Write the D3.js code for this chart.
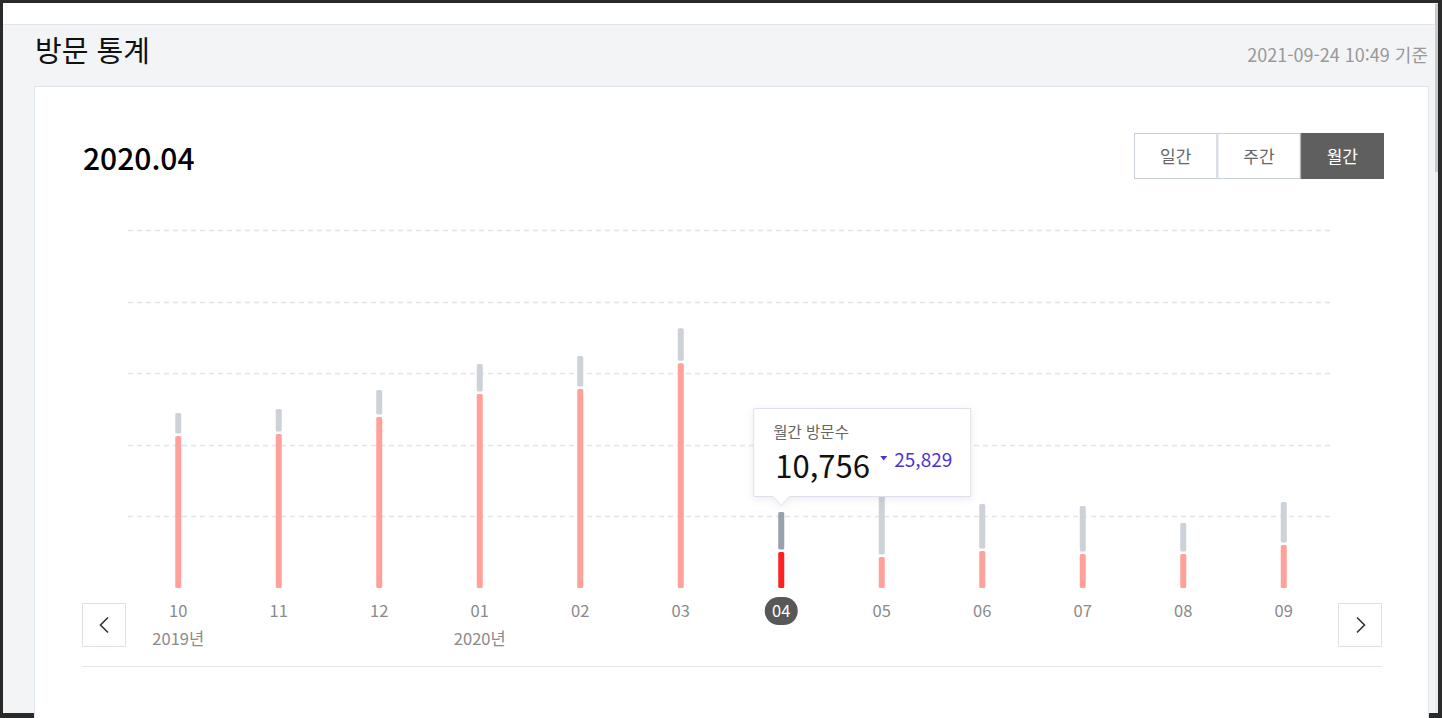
<!DOCTYPE html>
<html lang="ko">
<head>
<meta charset="utf-8">
<script src="https://cdn.jsdelivr.net/npm/d3@7"></script>
<style>
  html, body { margin: 0; padding: 0; background: #2a2a2a; }
  body { width: 1442px; height: 718px; overflow: hidden; }
  svg { display: block; }
  text { font-family: "Noto Sans CJK KR", "Noto Sans", sans-serif; }
</style>
</head>
<body>
<svg id="chart" width="1442" height="718"></svg>
<script>
// ---- data ----
const months = ["10", "11", "12", "01", "02", "03", "04", "05", "06", "07", "08", "09"];
const yearLabels = ["2019년", "", "", "2020년", "", "", "", "", "", "", "", ""];
const visits = [45400, 46000, 51100, 58000, 59500, 67200, 10756, 9260, 11050, 10160, 10160, 12850];
const remainder = [6870, 7470, 8070, 8960, 9860, 10460, 11950, 20000, 14040, 14340, 9260, 12850];
const gridValues = [21400, 42800, 64200, 85600, 107000];
const periodButtons = ["일간", "주간", "월간"];
const activeButton = "월간";
const selectedMonth = "04";
const pageTitle = "방문 통계";
const stampText = "2021-09-24 10:49 기준";
const periodTitle = "2020.04";
const tooltipLabel = "월간 방문수";
const tooltipValue = 10756;
const tooltipDiff = 25829;

const svg = d3.select("#chart");

// ---- page chrome ----
svg.append("rect").attr("x", 3).attr("y", 3).attr("width", 1435).attr("height", 710).attr("fill", "#f3f4f6");
svg.append("rect").attr("x", 3).attr("y", 3).attr("width", 1432).attr("height", 21).attr("fill", "#ffffff");
svg.append("line").attr("x1", 3).attr("x2", 1435).attr("y1", 24.5).attr("y2", 24.5).attr("stroke", "#e2e5ea");
// scrollbar
svg.append("rect").attr("x", 1435).attr("y", 3).attr("width", 3).attr("height", 710).attr("fill", "#ececec");
svg.append("rect").attr("x", 1435).attr("y", 4).attr("width", 3).attr("height", 168).attr("fill", "#c9c9c9");

svg.append("text").attr("x", 35).attr("y", 62).attr("font-size", 29).attr("fill", "#111").text(pageTitle);
svg.append("text").attr("x", 1428).attr("y", 62).attr("text-anchor", "end").attr("font-size", 18)
  .attr("font-family", "'Noto Sans', 'Noto Sans CJK KR', sans-serif")
  .attr("fill", "#999").text(stampText);

// card
svg.append("rect").attr("x", 34.5).attr("y", 86.5).attr("width", 1394).attr("height", 640)
  .attr("fill", "#fff").attr("stroke", "#dfe3ea");

svg.append("text").attr("x", 83).attr("y", 170).attr("font-family", "Roboto, 'Liberation Sans', sans-serif")
  .attr("font-weight", 500).attr("font-size", 30).attr("fill", "#000").text(periodTitle);

// period buttons
const btnX = d3.scaleBand().domain(periodButtons).range([1134, 1384]);
const btn = svg.append("g").selectAll("g").data(periodButtons).join("g");
btn.append("rect")
  .attr("x", d => btnX(d) + 0.5).attr("y", 133.5)
  .attr("width", btnX.bandwidth() - 1).attr("height", 45)
  .attr("fill", d => d === activeButton ? "#5f5f5f" : "#fff")
  .attr("stroke", d => d === activeButton ? "#5f5f5f" : "#c9cfdb");
btn.append("text")
  .attr("x", d => btnX(d) + btnX.bandwidth() / 2).attr("y", 163)
  .attr("text-anchor", "middle").attr("font-size", 17)
  .attr("fill", d => d === activeButton ? "#fff" : "#666").text(d => d);

// ---- chart ----
const baseY = 588;
const x = d3.scaleBand().domain(months).range([128, 1334]);
const y = d3.scaleLinear().domain([0, 107000]).range([baseY, 230]);
const barW = 6;
const gap = 2.5;

svg.append("g").selectAll("line").data(gridValues).join("line")
  .attr("x1", 128).attr("x2", 1334)
  .attr("y1", d => Math.round(y(d)) + 0.5).attr("y2", d => Math.round(y(d)) + 0.5)
  .attr("stroke", "#e4e4e4").attr("stroke-width", 1.6).attr("stroke-dasharray", "5,4");

const rows = months.map((m, i) => ({ m, v: visits[i], r: remainder[i], year: yearLabels[i] }));
const cx = d => x(d.m) + x.bandwidth() / 2;

const bars = svg.append("g").selectAll("g").data(rows).join("g");
bars.append("rect")
  .attr("x", d => cx(d) - barW / 2).attr("width", barW)
  .attr("y", d => y(d.v + d.r))
  .attr("height", d => y(d.v) - gap - y(d.v + d.r))
  .attr("rx", 1.5)
  .attr("fill", d => d.m === selectedMonth ? "#99a1ac" : "#cdd2d8");
bars.append("rect")
  .attr("x", d => cx(d) - barW / 2).attr("width", barW)
  .attr("y", d => y(d.v))
  .attr("height", d => baseY - y(d.v))
  .attr("rx", 1.5)
  .attr("fill", d => d.m === selectedMonth ? "#ff2121" : "#ffa19b");

// x labels
const sel = rows.find(d => d.m === selectedMonth);
svg.append("rect").attr("x", cx(sel) - 16.5).attr("y", 597).attr("width", 33).attr("height", 28)
  .attr("rx", 14).attr("fill", "#585858");
svg.append("g").selectAll("text").data(rows).join("text")
  .attr("x", cx).attr("y", 617).attr("text-anchor", "middle").attr("font-size", 16.5)
  .attr("fill", d => d.m === selectedMonth ? "#fff" : "#8a8a8a").text(d => d.m);
svg.append("g").selectAll("text").data(rows.filter(d => d.year)).join("text")
  .attr("x", cx).attr("y", 645).attr("text-anchor", "middle").attr("font-size", 16.5)
  .attr("fill", "#8a8a8a").text(d => d.year);

// nav buttons
[[82.5, "M108,617.5 L100.5,625 L108,632.5"], [1338.5, "M1357,617.5 L1364.5,625 L1357,632.5"]].forEach(([bx, p]) => {
  svg.append("rect").attr("x", bx).attr("y", 603.5).attr("width", 43).attr("height", 43)
    .attr("fill", "#fff").attr("stroke", "#dde1ea");
  svg.append("path").attr("d", p).attr("fill", "none").attr("stroke", "#333").attr("stroke-width", 1.6);
});
svg.append("line").attr("x1", 82).attr("x2", 1382).attr("y1", 666.5).attr("y2", 666.5).attr("stroke", "#e4e6ea");

// ---- tooltip ----
const defs = svg.append("defs");
const f = defs.append("filter").attr("id", "sh").attr("x", "-20%").attr("y", "-20%").attr("width", "140%").attr("height", "150%");
f.append("feDropShadow").attr("dx", 0).attr("dy", 2).attr("stdDeviation", 4).attr("flood-color", "#000").attr("flood-opacity", 0.08);

const tx = cx(sel) - 28, ty = 408, tw = 218, th = 89;
const tip = svg.append("g");
tip.append("path")
  .attr("d", `M${tx + 0.5},${ty + 0.5} H${tx + tw - 0.5} V${ty + th - 0.5} H${cx(sel) + 8} L${cx(sel)},${ty + th + 8.5} L${cx(sel) - 8},${ty + th - 0.5} H${tx + 0.5} Z`)
  .attr("fill", "#fff").attr("stroke", "#dde1ec").attr("filter", "url(#sh)");
tip.append("text").attr("x", tx + 20).attr("y", ty + 30).attr("font-size", 15.5).attr("fill", "#666").text(tooltipLabel);
tip.append("text").attr("x", tx + 22).attr("y", ty + 70).attr("font-family", "Roboto, sans-serif")
  .attr("font-size", 31).attr("fill", "#111").text(d3.format(",")(tooltipValue));
tip.append("path").attr("d", `M${tx + 127},${ty + 48} L${tx + 134},${ty + 48} L${tx + 130.5},${ty + 52.5} Z`).attr("fill", "#4a33d8");
tip.append("text").attr("x", tx + 141).attr("y", ty + 59).attr("font-family", "Roboto, sans-serif")
  .attr("font-size", 19).attr("fill", "#4a33d8").text(d3.format(",")(tooltipDiff));
</script>
</body>
</html>
